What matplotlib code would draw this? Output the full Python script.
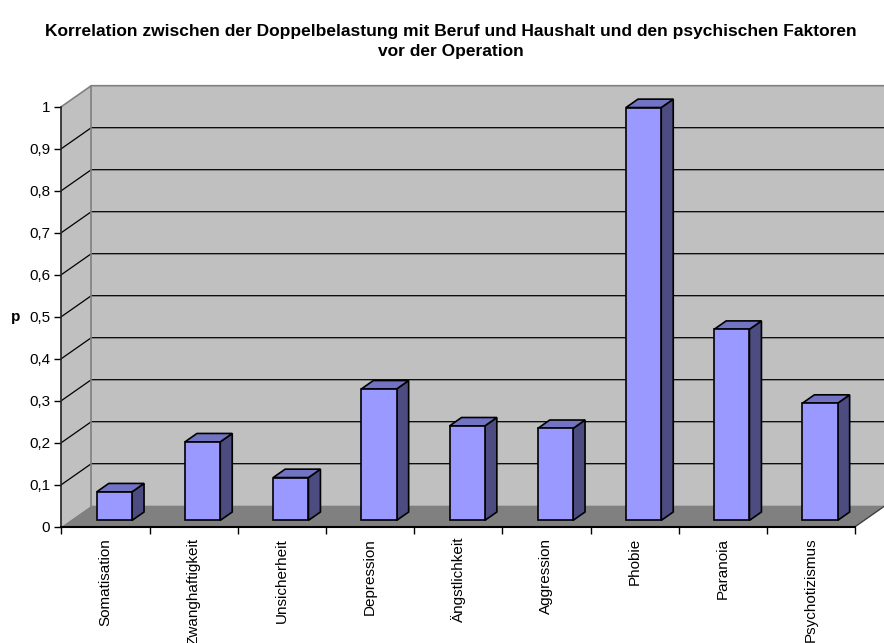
import matplotlib
matplotlib.use("Agg")
import matplotlib.pyplot as plt
from matplotlib.patches import Polygon, Rectangle
from matplotlib.ticker import FixedLocator

# ---- data -------------------------------------------------------------
categories = ["Somatisation", "Zwanghaftigkeit", "Unsicherheit", "Depression",
              "Ängstlichkeit", "Aggression", "Phobie", "Paranoia", "Psychotizismus"]
p_values = [0.068, 0.187, 0.102, 0.313, 0.225, 0.219, 0.983, 0.455, 0.279]
y_ticks = [0.0, 0.1, 0.2, 0.3, 0.4, 0.5, 0.6, 0.7, 0.8, 0.9, 1.0]
y_ticklabels = ["0", "0,1", "0,2", "0,3", "0,4", "0,5", "0,6", "0,7", "0,8", "0,9", "1"]
title_lines = ["Korrelation zwischen der Doppelbelastung mit Beruf und Haushalt und den psychischen Faktoren",
               "vor der Operation"]

plt.rcParams["font.family"] = ["Liberation Sans", "DejaVu Sans"]

W, H, DPI = 884, 643, 100
fig = plt.figure(figsize=(W / DPI, H / DPI), dpi=DPI)
fig.patch.set_facecolor("white")

# plot frame in pixel units (front plane)
X0, CW = 61.3, 88.2       # left edge of the front floor, width of one category
Y0, YU = 526.7, 420.0     # y of value 0 and pixels per unit
n = len(categories)

ax = fig.add_axes([X0 / W, 1 - Y0 / H, (W - X0) / W, (Y0 - 80) / H])
ax.set_xlim(0, (W - X0) / CW)
ax.set_ylim(0, (Y0 - 80) / YU)
ax.set_facecolor("none")

# depth of the 3-D box in data units
DX, DY = 30 / CW, 21 / YU
xr = n + DX

wall_c, floor_c, frame_c = "#C0C0C0", "#808080", "#808080"

# back wall, side wall, floor
ax.add_patch(Polygon([(DX, DY), (xr, DY), (xr, 1 + DY), (DX, 1 + DY)],
                     closed=True, fc=wall_c, ec="none", zorder=0))
ax.add_patch(Polygon([(0, 0), (DX, DY), (DX, 1 + DY), (0, 1)],
                     closed=True, fc=wall_c, ec="none", zorder=0))
ax.add_patch(Polygon([(0, 0), (n, 0), (n + DX, DY), (DX, DY)],
                     closed=True, fc=floor_c, ec="none", zorder=1))

# gridlines on the walls
for v in y_ticks[1:-1]:
    ax.plot([0, DX, xr], [v, v + DY, v + DY], color="black", lw=0.9,
            zorder=0.5, solid_capstyle="butt")

# wall frame
ax.plot([0, DX, xr], [1, 1 + DY, 1 + DY], color=frame_c, lw=1.2, zorder=0.6)
ax.plot([DX, DX], [DY, 1 + DY], color=frame_c, lw=1.2, zorder=0.6)
ax.plot([n, n + DX], [0, DY], color="#404040", lw=1.0, zorder=1.2)

# 3-D bars
front_c, top_c, side_c = "#9999FF", "#7373C3", "#4C4C80"
bw = 0.4
d0, d1 = 0.3, 0.7
for i, v in enumerate(p_values):
    xl = i + 0.5 - bw / 2 + d0 * DX
    yb = d0 * DY
    ddx, ddy = (d1 - d0) * DX, (d1 - d0) * DY
    kw = dict(ec="black", lw=1.2, joinstyle="miter", zorder=3)
    ax.add_patch(Polygon([(xl + bw, yb), (xl + bw + ddx, yb + ddy),
                          (xl + bw + ddx, yb + v + ddy), (xl + bw, yb + v)],
                         closed=True, fc=side_c, **kw))
    ax.add_patch(Polygon([(xl, yb + v), (xl + bw, yb + v),
                          (xl + bw + ddx, yb + v + ddy), (xl + ddx, yb + v + ddy)],
                         closed=True, fc=top_c, **kw))
    ax.add_patch(Rectangle((xl, yb), bw, v, fc=front_c, **kw))

# axes lines and ticks
for s in ("top", "right"):
    ax.spines[s].set_visible(False)
ax.spines["left"].set_bounds(0, 1)
ax.spines["bottom"].set_bounds(0, n)
ax.spines["left"].set_color("#202020")
ax.spines["bottom"].set_color("black")
ax.spines["left"].set_linewidth(1.2)
ax.spines["bottom"].set_linewidth(1.5)
ax.spines["left"].set_zorder(2)
ax.spines["bottom"].set_zorder(2)

ax.set_yticks(y_ticks)
ax.set_yticklabels(y_ticklabels, fontsize=11)
ax.tick_params(axis="y", length=5, width=1, pad=3, color="black")

ax.set_xticks([i + 0.5 for i in range(n)])
ax.set_xticklabels(categories, rotation=90, fontsize=11, va="top", ha="center")
ax.xaxis.set_minor_locator(FixedLocator(list(range(n + 1))))
ax.tick_params(axis="x", which="major", length=0, pad=8)
ax.tick_params(axis="x", which="minor", length=5, width=1, color="black")

ax.set_ylabel("p", rotation=0, fontsize=11, fontweight="bold", va="center", ha="center")
ax.yaxis.set_label_coords((16 - X0) / (W - X0), 0.5 / ax.get_ylim()[1])

for line, yb in zip(title_lines, (36, 56)):
    fig.text(451 / W, 1 - yb / H, line, ha="center", va="baseline",
             fontsize=12.5, fontweight="bold")

fig.savefig("out.png", dpi=DPI)
